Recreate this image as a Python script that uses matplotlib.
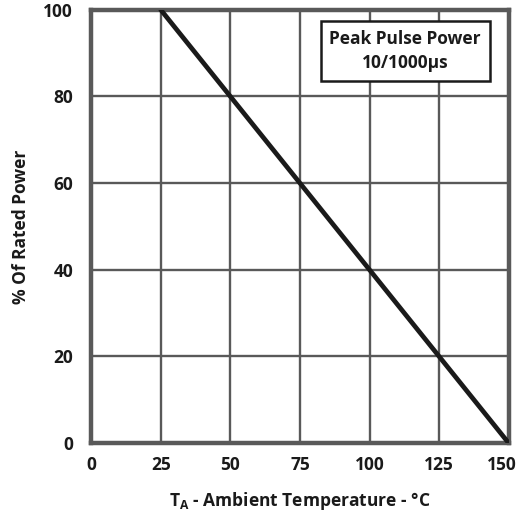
import matplotlib
matplotlib.use("Agg")
import matplotlib.pyplot as plt
from matplotlib.transforms import ScaledTranslation

temps = [25, 150]
power = [100, 0]
x_ticks = [0, 25, 50, 75, 100, 125, 150]
y_ticks = [0, 20, 40, 60, 80, 100]

plt.rcParams['font.family'] = ['Open Sans', 'DejaVu Sans']
plt.rcParams['font.weight'] = 'bold'

fig = plt.figure(figsize=(5.18, 5.14), dpi=100)
ax = fig.add_axes([0.176, 0.138, 0.806, 0.843])

ax.plot(temps, power, color='#1a1a1a', lw=3.4, solid_capstyle='round', zorder=3)
ax.set_xlim(0, 150)
ax.set_ylim(0, 100)
ax.set_xticks(x_ticks)
ax.set_yticks(y_ticks)
ax.grid(True, color='#595959', lw=1.7)
for s in ax.spines.values():
    s.set_color('#595959')
    s.set_linewidth(3.2)
ax.tick_params(length=0, labelsize=12.5, colors='#1a1a1a')
ax.tick_params(axis='x', pad=9)
ax.tick_params(axis='y', pad=13)
for lab in ax.get_xticklabels() + ax.get_yticklabels():
    lab.set_fontweight('bold')

# the last x tick label sits a bit left of its grid line, inside the picture
last = ax.get_xticklabels()[-1]
last.set_transform(last.get_transform() + ScaledTranslation(-7 / 100, 0, fig.dpi_scale_trans))

ax.set_xlabel(r'T$_\mathregular{A}$ - Ambient Temperature - °C', fontsize=12.5,
              fontweight='bold', labelpad=12, color='#1a1a1a')
ax.set_ylabel('% Of Rated Power', fontsize=12.5, fontweight='bold', color='#1a1a1a')
ax.yaxis.set_label_coords(-0.168, 0.5)
ax.yaxis.label.set_va('center')

ax.text(0.752, 0.905, 'Peak Pulse Power\n10/1000µs', transform=ax.transAxes,
        ha='center', va='center', fontsize=12.5, fontweight='bold', color='#1a1a1a',
        linespacing=1.45,
        bbox=dict(boxstyle='square,pad=0.5', fc='white', ec='#1a1a1a', lw=1.8),
        zorder=5)

fig.savefig('out.png', dpi=100)
